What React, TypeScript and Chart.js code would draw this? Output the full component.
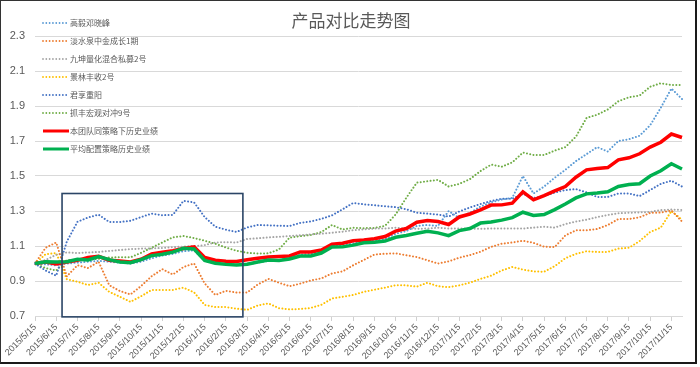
import React, { useEffect, useRef } from "react";
import { Chart, registerables } from "chart.js";

Chart.register(...registerables);

const chartTitle = "产品对比走势图";

const dates = [
  "2015/5/15", "2015/6/1", "2015/6/15", "2015/7/1", "2015/7/15", "2015/8/1", "2015/8/15", "2015/9/1",
  "2015/9/15", "2015/10/1", "2015/10/15", "2015/11/1", "2015/11/15", "2015/12/1", "2015/12/15", "2016/1/1",
  "2016/1/15", "2016/2/1", "2016/2/15", "2016/3/1", "2016/3/15", "2016/4/1", "2016/4/15", "2016/5/1",
  "2016/5/15", "2016/6/1", "2016/6/15", "2016/7/1", "2016/7/15", "2016/8/1", "2016/8/15", "2016/9/1",
  "2016/9/15", "2016/10/1", "2016/10/15", "2016/11/1", "2016/11/15", "2016/12/1", "2016/12/15", "2017/1/1",
  "2017/1/15", "2017/2/1", "2017/2/15", "2017/3/1", "2017/3/15", "2017/4/1", "2017/4/15", "2017/5/1",
  "2017/5/15", "2017/6/1", "2017/6/15", "2017/7/1", "2017/7/15", "2017/8/1", "2017/8/15", "2017/9/1",
  "2017/9/15", "2017/10/1", "2017/10/15", "2017/11/1", "2017/11/15", "2017/12/1",
];

const gaoyi = [
  1.0, 0.995, 0.99, 1.0, 1.005, 1.01, 1.015, 1.01, 1.005, 1.0, 1.01, 1.03, 1.045, 1.055, 1.07, 1.075,
  1.015, 1.0, 0.995, 0.995, 0.995, 1.005, 1.015, 1.02, 1.03, 1.05, 1.055, 1.07, 1.1, 1.105, 1.115, 1.125,
  1.13, 1.14, 1.17, 1.185, 1.215, 1.22, 1.215, 1.3, 1.26, 1.29, 1.325, 1.35, 1.365, 1.375, 1.5, 1.4,
  1.44, 1.49, 1.535, 1.585, 1.625, 1.665, 1.64, 1.7, 1.71, 1.73, 1.79, 1.89, 2.0, 1.94,
];

const danshuiquan = [
  1.0, 1.09, 1.12, 0.926, 0.99, 0.974, 1.01, 0.876, 0.843, 0.823, 0.871, 0.927, 0.968, 0.937, 0.98, 1.0,
  0.886, 0.82, 0.844, 0.834, 0.834, 0.88, 0.912, 0.89, 0.87, 0.885, 0.903, 0.915, 0.943, 0.955, 0.99, 1.02,
  1.051, 1.056, 1.058, 1.047, 1.037, 1.018, 1.0, 1.012, 1.033, 1.048, 1.067, 1.095, 1.113, 1.12, 1.13, 1.118,
  1.096, 1.094, 1.16, 1.19, 1.19, 1.197, 1.22, 1.254, 1.254, 1.264, 1.289, 1.291, 1.303, 1.24,
];

const jiukun = [
  1.0, 1.02, 1.05, 1.063, 1.06, 1.063, 1.066, 1.072, 1.077, 1.082, 1.085, 1.086, 1.089, 1.093, 1.097, 1.1,
  1.105, 1.12, 1.122, 1.12, 1.14, 1.144, 1.149, 1.153, 1.157, 1.161, 1.166, 1.17, 1.176, 1.182, 1.19, 1.195,
  1.2, 1.2, 1.205, 1.2, 1.198, 1.2, 1.205, 1.2, 1.2, 1.2, 1.198, 1.2, 1.2, 1.2, 1.2, 1.205,
  1.21, 1.205, 1.225, 1.24, 1.25, 1.265, 1.277, 1.287, 1.29, 1.292, 1.295, 1.305, 1.308, 1.306,
];

const jinglin = [
  1.0, 1.053, 1.06, 0.91, 0.896, 0.877, 0.89, 0.838, 0.81, 0.781, 0.813, 0.849, 0.849, 0.849, 0.862, 0.835,
  0.763, 0.751, 0.751, 0.742, 0.735, 0.76, 0.772, 0.745, 0.738, 0.74, 0.746, 0.764, 0.8, 0.81, 0.82, 0.838,
  0.85, 0.862, 0.876, 0.875, 0.868, 0.89, 0.87, 0.865, 0.875, 0.89, 0.912, 0.93, 0.96, 0.98, 0.965, 0.955,
  0.953, 0.985, 1.03, 1.055, 1.07, 1.066, 1.066, 1.085, 1.09, 1.128, 1.18, 1.205, 1.3, 1.25,
];

const junxiang = [
  1.0, 0.96, 0.93, 1.125, 1.238, 1.263, 1.279, 1.237, 1.237, 1.244, 1.265, 1.285, 1.276, 1.278, 1.358, 1.349,
  1.265, 1.21, 1.193, 1.18, 1.206, 1.22, 1.218, 1.216, 1.214, 1.232, 1.24, 1.255, 1.275, 1.31, 1.346, 1.338,
  1.333, 1.327, 1.322, 1.31, 1.29, 1.285, 1.28, 1.268, 1.297, 1.32, 1.34, 1.357, 1.37, 1.37, 1.397, 1.375,
  1.385, 1.405, 1.42, 1.425, 1.406, 1.38, 1.38, 1.4, 1.4, 1.385, 1.42, 1.455, 1.473, 1.44,
];

const zhuafeng = [
  1.0, 0.974, 0.96, 1.02, 1.02, 1.023, 1.027, 1.034, 1.036, 1.035, 1.061, 1.09, 1.12, 1.15, 1.157, 1.145,
  1.13, 1.113, 1.091, 1.073, 1.061, 1.057, 1.058, 1.08, 1.148, 1.156, 1.163, 1.18, 1.22, 1.194, 1.204, 1.202,
  1.203, 1.215, 1.28, 1.375, 1.462, 1.47, 1.478, 1.44, 1.455, 1.482, 1.528, 1.565, 1.553, 1.578, 1.634, 1.62,
  1.62, 1.645, 1.665, 1.725, 1.832, 1.85, 1.88, 1.927, 1.95, 1.96, 2.01, 2.03, 2.02, 2.02,
];

const teamHistory = [
  1.0, 1.008, 0.998, 1.009, 1.018, 1.035, 1.041, 1.019, 1.014, 1.009, 1.024, 1.054, 1.065, 1.073, 1.086, 1.095,
  1.035, 1.019, 1.013, 1.012, 1.021, 1.03, 1.037, 1.04, 1.043, 1.066, 1.066, 1.077, 1.11, 1.116, 1.13, 1.134,
  1.141, 1.154, 1.185, 1.2, 1.236, 1.245, 1.24, 1.223, 1.266, 1.283, 1.307, 1.334, 1.335, 1.345, 1.41, 1.364,
  1.388, 1.415, 1.44, 1.493, 1.535, 1.543, 1.548, 1.592, 1.604, 1.627, 1.665, 1.693, 1.74, 1.72,
];

const avgAllocation = [
  1.0, 1.01, 1.008, 1.01, 1.024, 1.02, 1.04, 1.022, 1.009, 1.004, 1.022, 1.045, 1.053, 1.065, 1.087, 1.083,
  1.017, 1.002, 0.995, 0.991, 0.996, 1.009, 1.02, 1.017, 1.026, 1.043, 1.043, 1.06, 1.094, 1.095, 1.105, 1.118,
  1.121, 1.128, 1.15, 1.16, 1.173, 1.184, 1.175, 1.159, 1.188, 1.2, 1.231, 1.237, 1.248, 1.262, 1.293, 1.275,
  1.28, 1.308, 1.34, 1.375, 1.398, 1.403, 1.41, 1.44, 1.451, 1.456, 1.5, 1.53, 1.57, 1.54,
];

const seriesNames = [
  "高毅邓晓峰",
  "淡水泉中金成长1期",
  "九坤量化混合私募2号",
  "景林丰收2号",
  "君享重阳",
  "抓丰宏观对冲9号",
  "本团队同策略下历史业绩",
  "平均配置策略历史业绩",
];
const seriesData = [gaoyi, danshuiquan, jiukun, jinglin, junxiang, zhuafeng, teamHistory, avgAllocation];
const seriesColors = ["#5B9BD5", "#ED7D31", "#A5A5A5", "#FFC000", "#4472C4", "#70AD47", "#FF0000", "#00B050"];
const seriesSolid = [false, false, false, false, false, false, true, true];

// highlighted window (category index range and value range)
const boxStartIndex = 2.55;
const boxEndIndex = 19.6;
const boxTop = 1.4;
const boxBottom = 0.695;

const FONT = '"Liberation Sans", "Noto Sans CJK SC", sans-serif';
const CJK = '"Noto Sans CJK SC", "Liberation Sans", sans-serif';
const TEXT = "#595959";
const DOT = [0.01, 3.3];

export default function App() {
  const ref = useRef<HTMLCanvasElement | null>(null);

  useEffect(() => {
    const prevMargin = document.body.style.margin;
    document.body.style.margin = "0";
    const canvas = ref.current;
    if (!canvas) return;

    const decorPlugin = {
      id: "decor",
      afterDatasetsDraw(chart: any) {
        const { ctx, scales } = chart;
        const x = scales.x;
        const y = scales.y;
        ctx.save();
        ctx.strokeStyle = "#2B4566";
        ctx.lineWidth = 1.6;
        const x0 = x.getPixelForValue(boxStartIndex);
        const x1 = x.getPixelForValue(boxEndIndex);
        const y0 = y.getPixelForValue(boxTop);
        const y1 = y.getPixelForValue(boxBottom);
        ctx.strokeRect(x0, y0, x1 - x0, y1 - y0);
        ctx.restore();
      },
      afterDraw(chart: any) {
        const { ctx } = chart;
        ctx.save();
        ctx.fillStyle = TEXT;
        ctx.font = `17px ${CJK}`;
        ctx.textAlign = "center";
        ctx.textBaseline = "middle";
        ctx.fillText(chartTitle, 351, 21);
        ctx.textAlign = "left";
        ctx.font = `8px ${CJK}`;
        chart.data.datasets.forEach((ds: any, i: number) => {
          const yy = 23 + 18 * i;
          ctx.beginPath();
          ctx.strokeStyle = ds.borderColor;
          ctx.lineWidth = seriesSolid[i] ? 3 : 1.8;
          ctx.lineCap = seriesSolid[i] ? "butt" : "round";
          ctx.setLineDash(seriesSolid[i] ? [] : DOT);
          ctx.moveTo(43, yy);
          ctx.lineTo(seriesSolid[i] ? 69 : 67, yy);
          ctx.stroke();
          ctx.setLineDash([]);
          ctx.fillStyle = TEXT;
          ctx.fillText(ds.label, 70, yy);
        });
        ctx.restore();
      },
    };

    const chart = new Chart(canvas, {
      type: "line",
      data: {
        labels: dates,
        datasets: seriesNames.map((name, i) => ({
          label: name,
          data: seriesData[i],
          borderColor: seriesColors[i],
          backgroundColor: seriesColors[i],
          borderWidth: seriesSolid[i] ? 3.5 : 2,
          borderDash: seriesSolid[i] ? [] : DOT,
          borderCapStyle: seriesSolid[i] ? "butt" : "round",
          pointRadius: 0,
          tension: 0,
          fill: false,
          order: i === 7 ? 0 : i === 6 ? 1 : 2,
        })),
      },
      options: {
        animation: false,
        responsive: false,
        maintainAspectRatio: false,
        layout: { padding: { left: 0, top: 36, right: 18, bottom: 0 } },
        plugins: {
          legend: { display: false },
          title: { display: false },
          tooltip: { enabled: false },
        },
        scales: {
          x: {
            type: "category",
            grid: {
              display: true,
              drawOnChartArea: false,
              drawTicks: true,
              tickLength: 5,
              tickColor: (c: any) =>
                dates[c.index] && dates[c.index].endsWith("/15") ? "#D0D0D0" : "rgba(0,0,0,0)",
            },
            border: { display: true, color: "#D9D9D9", width: 1 },
            ticks: {
              autoSkip: false,
              minRotation: 45,
              maxRotation: 45,
              padding: 1,
              color: TEXT,
              font: { family: FONT, size: 9 },
              callback: (_v: any, idx: number) => (dates[idx].endsWith("/15") ? dates[idx] : ""),
            },
            afterFit: (s: any) => {
              s.height = 51;
            },
          },
          y: {
            min: 0.7,
            max: 2.3,
            grid: { color: "#D9D9D9", lineWidth: 1, drawTicks: false },
            border: { display: false },
            ticks: {
              stepSize: 0.2,
              padding: 10,
              color: TEXT,
              font: { family: FONT, size: 11 },
              callback: (v: any) => Number(v).toFixed(1),
            },
            afterFit: (s: any) => {
              s.width = 35;
            },
          },
        },
      },
      plugins: [decorPlugin],
    });

    return () => {
      chart.destroy();
      document.body.style.margin = prevMargin;
    };
  }, []);

  return (
    <div style={{ position: "relative", width: 700, height: 367, background: "#fff" }}>
      <canvas ref={ref} width={700} height={367} style={{ display: "block", width: 700, height: 367 }} />
      <div
        style={{
          position: "absolute",
          left: 0,
          top: 0,
          width: 697,
          height: 364,
          boxSizing: "border-box",
          borderTop: "1px solid #333",
          borderLeft: "1px solid #333",
          borderRight: "2px solid #1a1a1a",
          borderBottom: "2px solid #1a1a1a",
          pointerEvents: "none",
        }}
      />
    </div>
  );
}
